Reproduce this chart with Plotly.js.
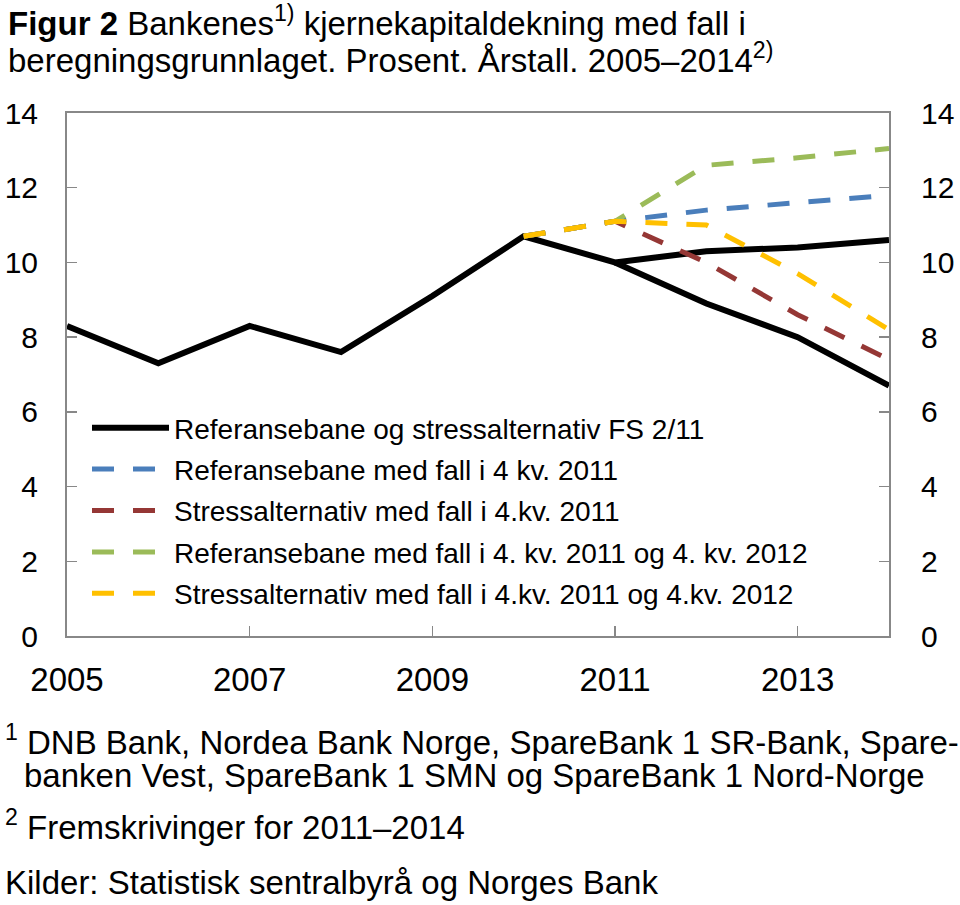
<!DOCTYPE html>
<html>
<head>
<meta charset="utf-8">
<script src="https://cdn.plot.ly/plotly-3.0.1.min.js"></script>
<style>
html,body{margin:0;padding:0;background:#fff;}
#chart{width:960px;height:905px;}
</style>
</head>
<body>
<div id="chart"></div>
<script>
// Data
var historyYears = [2005, 2006, 2007, 2008, 2009, 2010, 2011];
var historyValues = [8.3, 7.3, 8.3, 7.6, 9.1, 10.7, 10.0];
var fsYears = [2011, 2012, 2013, 2014];
var fsReference = [10.0, 10.3, 10.4, 10.6];
var fsStress = [10.0, 8.9, 8.0, 6.7];
var scenarioYears = [2010, 2011, 2012, 2013, 2014];
var refFall2011 = [10.7, 11.1, 11.4, 11.6, 11.8];
var stressFall2011 = [10.7, 11.1, 10.0, 8.6, 7.4];
var refFall2011_2012 = [10.7, 11.1, 12.6, 12.8, 13.05];
var stressFall2011_2012 = [10.7, 11.1, 11.0, 9.7, 8.2];
var seriesNames = [
  'Referansebane og stressalternativ FS 2/11',
  'Referansebane med fall i 4 kv. 2011',
  'Stressalternativ med fall i 4.kv. 2011',
  'Referansebane med fall i 4. kv. 2011 og 4. kv. 2012',
  'Stressalternativ med fall i 4.kv. 2011 og 4.kv. 2012'
];
var xTickVals = [2005, 2007, 2009, 2011, 2013];
var yTickVals = [0, 2, 4, 6, 8, 10, 12, 14];

// Black series: history + reference branch, gap, stress branch
var blackX = historyYears.concat(fsYears.slice(1), [null], fsYears);
var blackY = historyValues.concat(fsReference.slice(1), [null], fsStress);

var FONT = 'Liberation Sans, Arial, sans-serif';
var FS = 33;
var YFS = 30;
var dash = '22px,19px';

var traces = [
  {x: blackX, y: blackY, name: seriesNames[0], mode: 'lines', connectgaps: false,
   line: {color: '#000000', width: 6}, legendgroup: 'a'},
  {x: scenarioYears, y: refFall2011, name: seriesNames[1], mode: 'lines',
   line: {color: '#4a7ebb', width: 5, dash: dash}, legendgroup: 'b'},
  {x: scenarioYears, y: stressFall2011, name: seriesNames[2], mode: 'lines',
   line: {color: '#953735', width: 5, dash: dash}, legendgroup: 'c'},
  {x: scenarioYears, y: refFall2011_2012, name: seriesNames[3], mode: 'lines',
   line: {color: '#9bbb59', width: 5, dash: dash}, legendgroup: 'd'},
  {x: scenarioYears, y: stressFall2011_2012, name: seriesNames[4], mode: 'lines',
   line: {color: '#ffc000', width: 5, dash: dash}, legendgroup: 'e'},
  // invisible copy so the right-hand axis gets drawn
  {x: blackX, y: blackY, yaxis: 'y2', mode: 'lines', showlegend: false, hoverinfo: 'skip',
   line: {color: 'rgba(0,0,0,0)', width: 0}}
];

var pl = 67, pr = 889, pt = 113, pb = 636;
var pw = pr - pl, ph = pb - pt;
function px(x){ return (x - pl) / pw; }
function py(y){ return (pb - y) / ph; }
function note(x, y, text){
  return {xref: 'paper', yref: 'paper', x: px(x), y: py(y), xanchor: 'left', yanchor: 'middle',
          showarrow: false, text: text, align: 'left', font: {family: FONT, size: FS, color: '#000'}};
}

var layout = {
  width: 960, height: 905,
  margin: {l: pl, r: 960 - pr, t: pt, b: 905 - pb, pad: 0},
  paper_bgcolor: '#ffffff', plot_bgcolor: '#ffffff',
  font: {family: FONT, size: FS, color: '#000'},
  showlegend: true,
  xaxis: {
    range: [2005, 2014], tickvals: xTickVals, ticktext: xTickVals.map(String),
    ticks: 'inside', ticklen: 10, tickwidth: 1.5, tickcolor: '#888',
    showline: true, linecolor: '#888', linewidth: 2, mirror: true,
    showgrid: false, zeroline: false, fixedrange: true,
    tickfont: {family: FONT, size: FS, color: '#000'}, ticklabelstandoff: 13
  },
  yaxis: {
    range: [0, 14], tickvals: yTickVals, ticktext: yTickVals.map(String),
    ticks: 'inside', ticklen: 10, tickwidth: 1.5, tickcolor: '#888',
    showline: true, linecolor: '#888', linewidth: 2, mirror: true,
    showgrid: false, zeroline: false, fixedrange: true,
    tickfont: {family: FONT, size: YFS, color: '#000'}, ticklabelstandoff: 21
  },
  yaxis2: {
    overlaying: 'y', side: 'right', range: [0, 14], tickvals: yTickVals, ticktext: yTickVals.map(String),
    ticks: 'inside', ticklen: 10, tickwidth: 1.5, tickcolor: '#888',
    showline: false, showgrid: false, zeroline: false, fixedrange: true,
    tickfont: {family: FONT, size: YFS, color: '#000'}, ticklabelstandoff: 31
  },
  legend: {
    x: px(87), y: py(403), xanchor: 'left', yanchor: 'top',
    bgcolor: 'rgba(0,0,0,0)', borderwidth: 0,
    font: {family: FONT, size: 28, color: '#000'},
    traceorder: 'grouped', tracegroupgap: 2, itemwidth: 77
  },
  annotations: [
    note(6, 21, '<b>Figur 2</b> Bankenes<sup>1)</sup> kjernekapitaldekning med fall i'),
    note(6, 58, 'beregningsgrunnlaget. Prosent. Årstall. 2005–2014<sup>2)</sup>'),
    note(3, 740, '<sup>1</sup> DNB Bank, Nordea Bank Norge, SpareBank 1 SR-Bank, Spare-'),
    note(22, 775, 'banken Vest, SpareBank 1 SMN og SpareBank 1 Nord-Norge'),
    note(3, 825, '<sup>2</sup> Fremskrivinger for 2011–2014'),
    note(3, 882, 'Kilder: Statistisk sentralbyrå og Norges Bank')
  ]
};

Plotly.newPlot('chart', traces, layout, {displayModeBar: false, staticPlot: true});
</script>
</body>
</html>
